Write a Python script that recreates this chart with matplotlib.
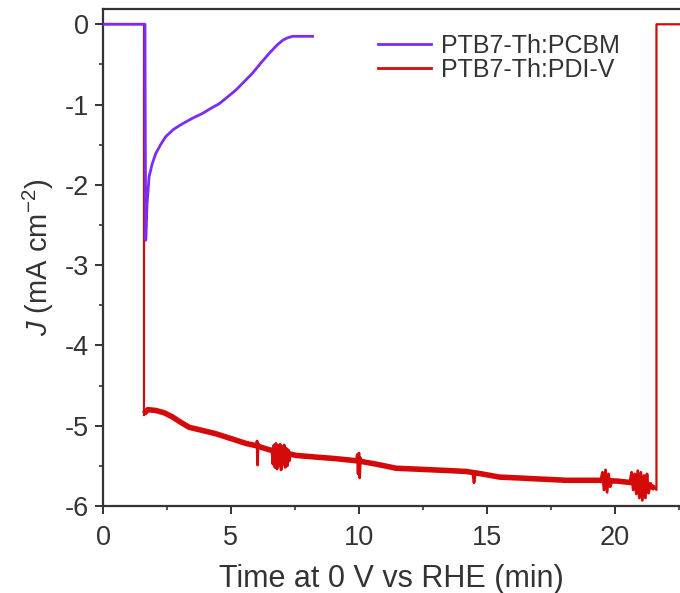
import matplotlib
matplotlib.use("Agg")
import matplotlib.pyplot as plt
from matplotlib.ticker import MultipleLocator

plt.rcParams["font.family"] = ["Liberation Sans", "DejaVu Sans"]
plt.rcParams["mathtext.fontset"] = "custom"
plt.rcParams["mathtext.rm"] = "Liberation Sans"
plt.rcParams["mathtext.it"] = "Liberation Sans:italic"
plt.rcParams["axes.unicode_minus"] = False

PURPLE = "#7a2df5"
RED = "#d40a0a"
INK = "#333333"

# PTB7-Th:PCBM chopped-light trace (min, mA cm-2)
t_pcbm = [0.0, 1.64, 1.65, 1.67, 1.72, 1.80, 1.92, 2.06, 2.25, 2.45, 2.75, 3.10, 3.50,
          3.89, 4.20, 4.54, 4.85, 5.19, 5.50, 5.84, 6.15, 6.50, 6.80, 7.02, 7.20, 7.41, 8.19]
j_pcbm = [0.0, 0.0, -1.2, -2.69, -2.25, -1.90, -1.74, -1.61, -1.50, -1.40, -1.31, -1.24, -1.17,
          -1.11, -1.05, -0.99, -0.91, -0.82, -0.72, -0.61, -0.49, -0.36, -0.26, -0.20, -0.17, -0.15, -0.15]

# PTB7-Th:PDI-V: dark baseline, light-on step, light-off step
t_step_on = [0.0, 1.60, 1.60]
j_step_on = [0.0, 0.0, -4.87]
t_step_off = [21.56, 21.63, 21.63, 22.6]
j_step_off = [-5.78, -5.80, 0.0, 0.0]

# PDI-V photocurrent under illumination (smooth part)
t_pdiv = [1.60, 1.75, 2.06, 2.40, 2.71, 3.00, 3.37, 3.90, 4.41, 5.00, 5.58, 6.00, 6.50,
          7.00, 7.54, 8.30, 9.10, 10.0, 10.7, 11.46, 12.2, 12.9, 13.6, 14.2, 14.8, 15.5,
          16.2, 16.8, 17.5, 18.1, 18.8, 19.4, 20.1, 20.7, 21.2, 21.56]
j_pdiv = [-4.85, -4.80, -4.81, -4.84, -4.89, -4.95, -5.02, -5.06, -5.10, -5.16, -5.22, -5.25, -5.30,
          -5.33, -5.37, -5.39, -5.41, -5.44, -5.48, -5.53, -5.54, -5.55, -5.56, -5.57, -5.60, -5.64,
          -5.65, -5.66, -5.67, -5.68, -5.68, -5.68, -5.69, -5.71, -5.72, -5.78]

# noisy bursts in the PDI-V trace
t_burst1 = [6.00, 6.02, 6.04, 6.06, 6.08]
j_burst1 = [-5.25, -5.19, -5.49, -5.22, -5.27]
t_burst2 = [6.60, 6.64, 6.68, 6.72, 6.76, 6.80, 6.84, 6.88, 6.92, 6.96, 7.00, 7.04, 7.08,
            7.12, 7.16, 7.20, 7.24, 7.28, 7.32]
j_burst2 = [-5.30, -5.48, -5.24, -5.52, -5.22, -5.54, -5.25, -5.50, -5.23, -5.55, -5.26, -5.48,
            -5.24, -5.52, -5.28, -5.50, -5.30, -5.44, -5.36]
t_burst3 = [9.90, 9.94, 9.97, 10.00, 10.03, 10.06, 10.10]
j_burst3 = [-5.43, -5.36, -5.60, -5.34, -5.65, -5.40, -5.46]
t_burst4 = [14.45, 14.50, 14.55]
j_burst4 = [-5.58, -5.71, -5.59]
t_burst5 = [19.45, 19.52, 19.58, 19.64, 19.70, 19.76, 19.82, 19.90]
j_burst5 = [-5.68, -5.58, -5.80, -5.55, -5.83, -5.60, -5.76, -5.69]
t_burst6 = [20.60, 20.66, 20.72, 20.78, 20.84, 20.90, 20.96, 21.02, 21.08, 21.14, 21.20,
            21.26, 21.32, 21.40]
j_burst6 = [-5.68, -5.58, -5.80, -5.60, -5.85, -5.56, -5.90, -5.58, -5.93, -5.62, -5.90,
            -5.60, -5.84, -5.72]

fig = plt.figure(figsize=(6.8, 5.93), dpi=100)
ax = fig.add_axes([0.1515, 0.1467, 0.8485, 0.8381])

ax.plot(t_step_on, j_step_on, color=RED, lw=1.6, zorder=2)
ax.plot(t_step_off, j_step_off, color=RED, lw=1.6, zorder=2)
ax.plot(t_pdiv, j_pdiv, color=RED, lw=4.0, solid_capstyle="butt", zorder=2)
for tb, jb in [(t_burst1, j_burst1), (t_burst2, j_burst2), (t_burst3, j_burst3),
               (t_burst4, j_burst4), (t_burst5, j_burst5), (t_burst6, j_burst6)]:
    ax.plot(tb, jb, color=RED, lw=2.0, zorder=2)
ax.plot(t_pcbm, j_pcbm, color=PURPLE, lw=2.0, zorder=3)

# legend handles
h1, = ax.plot([], [], color=PURPLE, lw=2.0)
h2, = ax.plot([], [], color=RED, lw=2.0)
ax.legend([h1, h2], ["PTB7-Th:PCBM", "PTB7-Th:PDI-V"],
          loc="upper left", bbox_to_anchor=(0.46, 0.97), frameon=False,
          fontsize=18, handlelength=2.1, handletextpad=0.4, labelspacing=0.0,
          borderaxespad=0.0, labelcolor=INK)

ax.set_xlim(0, 22.55)
ax.set_ylim(-6, 0.19)
ax.xaxis.set_major_locator(MultipleLocator(5))
ax.xaxis.set_minor_locator(MultipleLocator(2.5))
ax.yaxis.set_major_locator(MultipleLocator(1))
ax.yaxis.set_minor_locator(MultipleLocator(0.5))

for side in ["left", "bottom", "top"]:
    ax.spines[side].set_color(INK)
    ax.spines[side].set_linewidth(1.6)
ax.spines["right"].set_visible(False)

ax.tick_params(which="major", direction="out", length=6, width=1.4, colors=INK,
               labelsize=19.5, pad=4)
ax.tick_params(axis="x", which="major", pad=8)
ax.tick_params(which="minor", direction="out", length=3, width=1.2, colors=INK)

ax.set_xlabel("Time at 0 V vs RHE (min)", fontsize=22, color=INK, labelpad=9)
ax.set_ylabel("$J$ (mA cm$^{-2}$)", fontsize=21, color=INK, labelpad=6)

fig.savefig("out.png", dpi=100, facecolor="white")
